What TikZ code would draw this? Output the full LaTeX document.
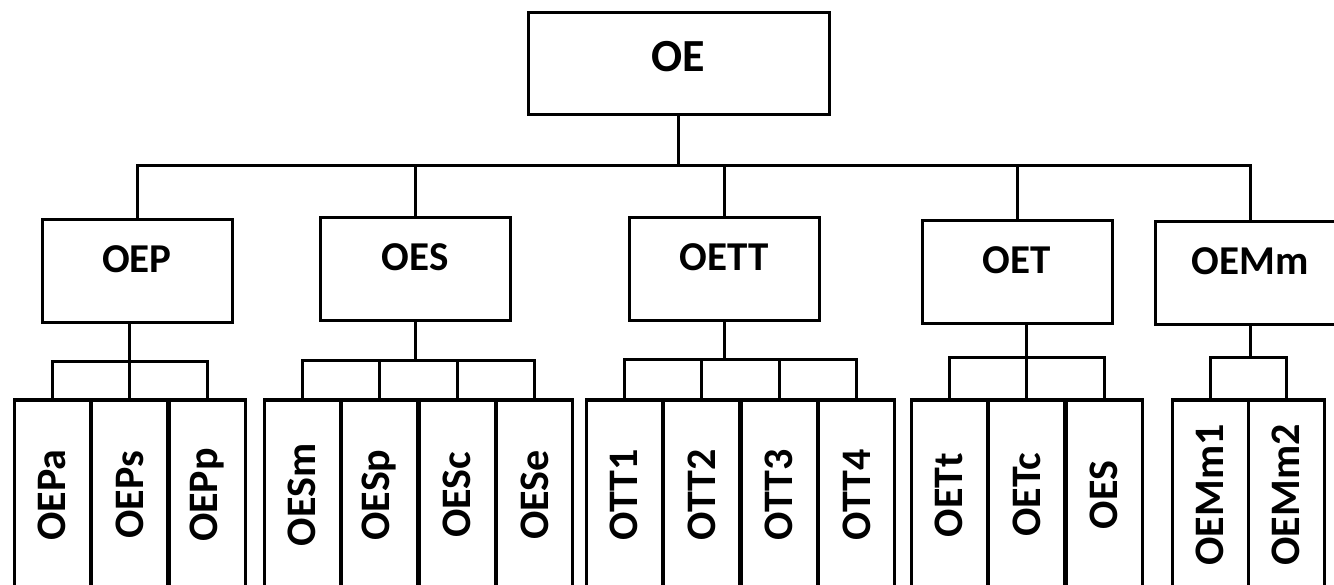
\documentclass[tikz,border=0pt]{standalone}
\usepackage{fontspec}
\setmainfont{Carlito}
\usetikzlibrary{positioning}

\tikzset{
  box/.style={draw, line width=3pt, inner sep=0pt, outer sep=0pt},
  rootbox/.style={box, minimum width=301pt, minimum height=102pt, text height=59pt, text depth=43pt, font=\bfseries\fontsize{46}{46}\selectfont},
  groupbox/.style={box, minimum width=190pt, minimum height=103pt, text height=53pt, text depth=50pt, font=\bfseries\fontsize{41}{41}\selectfont},
  leafbox/.style={box, minimum width=76pt, minimum height=190pt, font=\bfseries\fontsize{42}{42}\selectfont},
  link/.style={line width=3pt}
}

\begin{document}
\begin{tikzpicture}[x=1pt, y=-1pt, node distance=1.5pt]
  \clip (0,0) rectangle (1334,585);

  \node[rootbox] (oe) at (678.5,64) {OE};

  \node[groupbox] (oep)  at (137,271.5)  {OEP};
  \node[groupbox] (oes)  at (415,269.5)  {OES};
  \node[groupbox] (oett) at (724,269.5)  {OETT};
  \node[groupbox] (oet)  at (1017,272)   {OET};
  \node[groupbox] (oemm) at (1250,273.5) {OEMm};

  \node[leafbox] (oep-a) at (52,495) {\rotatebox{90}{OEPa}};
  \node[leafbox, right=of oep-a] (oep-s) {\rotatebox{90}{OEPs}};
  \node[leafbox, right=of oep-s] (oep-p) {\rotatebox{90}{OEPp}};

  \node[leafbox] (oes-m) at (302,495) {\rotatebox{90}{OESm}};
  \node[leafbox, right=of oes-m] (oes-p) {\rotatebox{90}{OESp}};
  \node[leafbox, right=of oes-p] (oes-c) {\rotatebox{90}{OESc}};
  \node[leafbox, right=of oes-c] (oes-e) {\rotatebox{90}{OESe}};

  \node[leafbox] (ott1) at (624,495) {\rotatebox{90}{OTT1}};
  \node[leafbox, right=of ott1] (ott2) {\rotatebox{90}{OTT2}};
  \node[leafbox, right=of ott2] (ott3) {\rotatebox{90}{OTT3}};
  \node[leafbox, right=of ott3] (ott4) {\rotatebox{90}{OTT4}};

  \node[leafbox] (oet-t) at (949,495) {\rotatebox{90}{OETt}};
  \node[leafbox, right=of oet-t] (oet-c) {\rotatebox{90}{OETc}};
  \node[leafbox, right=of oet-c] (oet-s) {\rotatebox{90}{OES}};

  \node[leafbox] (oemm-1) at (1210,495) {\rotatebox{90}{OEMm1}};
  \node[leafbox, right=0pt of oemm-1] (oemm-2) {\rotatebox{90}{OEMm2}};

  \draw[link] (oe.south) -- ++(0,51) coordinate (hub);
  \draw[link] (oep.north) |- (hub) -| (oemm.north);
  \foreach \g in {oes,oett,oet}
    \draw[link] (\g.north) -- (\g.north |- hub);

  \draw[link] (oep-s.north) -- (oep-s.north |- oep.south);
  \draw[link] (oep-a.north) -- ++(0,-38) -| (oep-p.north);

  \draw[link] (oes.south) -- ++(0,40) coordinate (js);
  \draw[link] (oes-m.north) |- (js) -| (oes-e.north);
  \foreach \n in {oes-p,oes-c}
    \draw[link] (\n.north) -- (\n.north |- js);

  \draw[link] (oett.south) -- ++(0,39) coordinate (jt);
  \draw[link] (ott1.north) |- (jt) -| (ott4.north);
  \foreach \n in {ott2,ott3}
    \draw[link] (\n.north) -- (\n.north |- jt);

  \draw[link] (oet-c.north) -- (oet-c.north |- oet.south);
  \draw[link] (oet-t.north) -- ++(0,-42) -| (oet-s.north);

  \draw[link] (oemm.south) -- ++(0,33) coordinate (jm);
  \draw[link] (oemm-1.north) |- (jm) -| (oemm-2.north);
\end{tikzpicture}
\end{document}
